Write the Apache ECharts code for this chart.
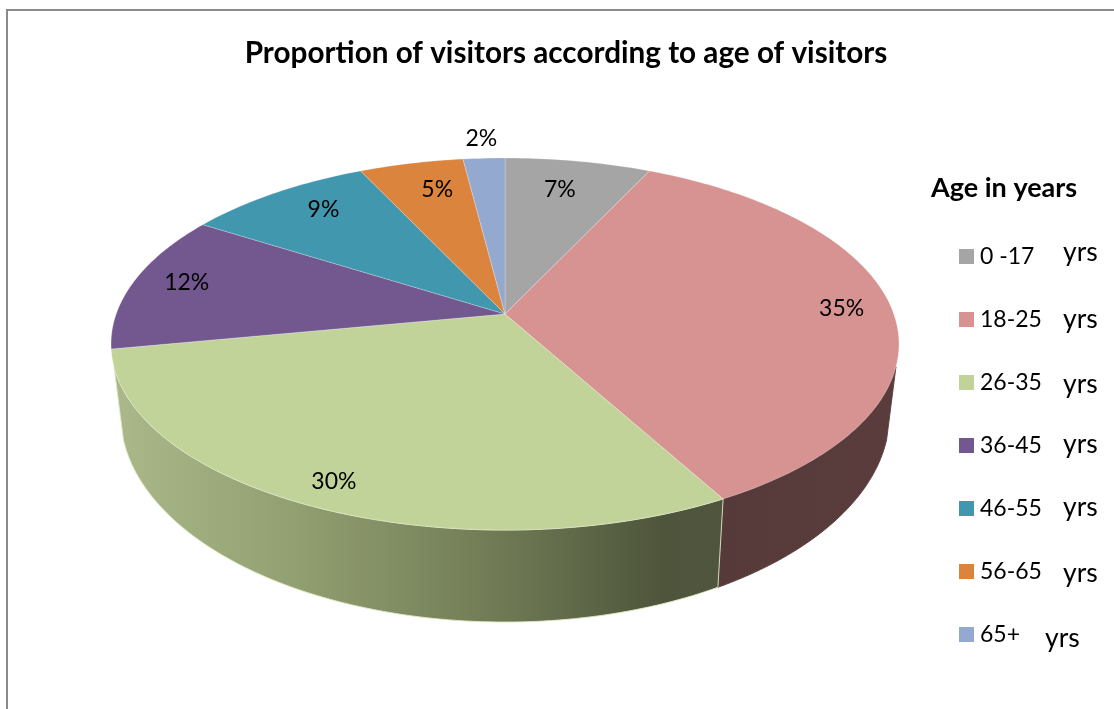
<!DOCTYPE html>
<html>
<head>
<meta charset="utf-8">
<style>html,body{margin:0;padding:0;background:#fff}#chart{width:1114px;height:709px}</style>
<script src="https://cdn.jsdelivr.net/npm/echarts@6/dist/echarts.min.js"></script>
</head>
<body>
<div id="chart"></div>
<script>
// Visitor shares by age band, in percent.
const ageBands = ['0 -17', '18-25', '26-35', '36-45', '46-55', '56-65', '65+'];
const sharePercent = [7, 35, 30, 12, 9, 5, 2];
const chartTitle = 'Proportion of visitors according to age of visitors';
const legendTitle = 'Age in years';
const unitWord = 'yrs';

// Appearance of each slice.
const sliceColors = ['#a5a5a5', '#d79391', '#c2d39a', '#72588e', '#4197ae', '#db843d', '#93a9cf'];
const FONT = 'Lato, "Open Sans", sans-serif';

// Label placement around the disc: radius fraction and angle nudge in degrees.
const labelSpots = [[.79, -1], [.87, 0], [.89, .3], [.86, 1], [.82, 2.5], [.80, 2], [1.15, 0]];
// Horizontal start and vertical centre of each "yrs" word beside the legend.
const unitSpots = [[1063, 252], [1063, 319], [1063, 384], [1063, 444], [1063, 507], [1063, 573], [1045, 638]];

// Perspective disc: apex position, semi-axes and foreshortening.
const APEX_X = 505, APEX_Y = 314, AX = 388.8, BY = 181.2, P = 0.1613;
// Side wall: the lower rim is an affine copy of the upper rim.
const WALL_SX = 0.976, WALL_SY = 1.117, WALL_DY = 30;
// Fractions of the circle between which the wall faces the viewer.
const WALL_FROM = 0.295, WALL_TO = 0.705;

function project(frac, r) {
  const t = frac * 2 * Math.PI;
  const u = r * Math.sin(t), v = -r * Math.cos(t);
  const w = 1 - P * v;
  return [APEX_X + AX * u / w, APEX_Y + BY * v / w];
}
function lowerRim(pt) {
  return [APEX_X + WALL_SX * (pt[0] - APEX_X), WALL_SY * pt[1] + WALL_DY];
}
function rimPoints(a, b) {
  const n = Math.max(2, Math.ceil((b - a) * 360));
  const pts = [];
  for (let i = 0; i <= n; i++) pts.push(project(a + (b - a) * i / n, 1));
  return pts;
}

// Wall shading runs across the whole front of the disc, so stops are per slice.
const wallFills = {
  1: new echarts.graphic.LinearGradient(0, 0, 1, 0, [
    { offset: 0, color: '#563a3a' }, { offset: 1, color: '#5a3c3c' }]),
  2: new echarts.graphic.LinearGradient(0, 0, 1, 0, [
    { offset: 0, color: '#abb88a' }, { offset: 0.3, color: '#929f70' },
    { offset: 0.62, color: '#717c56' }, { offset: 0.9, color: '#4e553b' }, { offset: 1, color: '#50563e' }])
};

let cumulative = 0;
const series = ageBands.map((name, i) => {
  const start = cumulative / 100;
  cumulative += sharePercent[i];
  const end = cumulative / 100;
  return {
    type: 'custom',
    name,
    coordinateSystem: 'none',
    silent: true,
    itemStyle: { color: sliceColors[i] },
    data: [[start, end, sharePercent[i]]],
    renderItem(params, api) {
      const a = api.value(0), b = api.value(1), pct = api.value(2);
      const children = [];
      const wa = Math.max(a, WALL_FROM), wb = Math.min(b, WALL_TO);
      if (wb > wa) {
        const top = rimPoints(wa, wb);
        const poly = top.concat(top.map(lowerRim).reverse());
        children.push({
          type: 'polygon',
          shape: { points: poly },
          style: { fill: wallFills[i], stroke: i === 2 ? '#dfe9c6' : '#5a3c3c', lineWidth: 0.9 }
        });
      }
      children.push({
        type: 'polygon',
        shape: { points: [[APEX_X, APEX_Y]].concat(rimPoints(a, b)) },
        style: { fill: sliceColors[i], stroke: 'rgba(255,255,255,0.3)', lineWidth: 0.8 }
      });
      const spot = labelSpots[i];
      const at = project((a + b) / 2 + spot[1] / 360, spot[0]);
      children.push({
        type: 'text',
        z2: 10,
        style: {
          x: at[0], y: at[1], text: pct + '%', fill: '#000',
          font: '23px ' + FONT, align: 'center', verticalAlign: 'middle'
        }
      });
      return { type: 'group', children };
    }
  };
});

const chart = echarts.init(document.getElementById('chart'), null, { renderer: 'canvas' });
chart.setOption({
  animation: false,
  backgroundColor: '#ffffff',
  title: {
    text: chartTitle, left: 561, top: 33, textAlign: 'center',
    textStyle: { fontFamily: FONT, fontSize: 29.7, fontWeight: 'bold', color: '#000' }
  },
  legend: {
    orient: 'vertical', left: 959, top: 245, icon: 'rect',
    itemWidth: 15, itemHeight: 15, itemGap: 40, padding: 0,
    selectedMode: false,
    data: ageBands,
    textStyle: { fontFamily: FONT, fontSize: 23, color: '#000', lineHeight: 23, padding: [0, 0, 0, 1] }
  },
  series,
  graphic: [
    { type: 'line', silent: true, shape: { x1: 7, y1: 709, x2: 7, y2: 10 }, style: { stroke: '#8a8a8a', lineWidth: 2 } },
    { type: 'line', silent: true, shape: { x1: 6, y1: 10, x2: 1114, y2: 10 }, style: { stroke: '#8a8a8a', lineWidth: 2 } },
    { type: 'text', silent: true, style: { x: 931, y: 188, text: legendTitle, fill: '#000', font: 'bold 27px ' + FONT, verticalAlign: 'middle' } }
  ].concat(unitSpots.map(s => ({
    type: 'text', silent: true,
    style: { x: s[0], y: s[1], text: unitWord, fill: '#000', font: '26.5px ' + FONT, verticalAlign: 'middle' }
  })))
});
</script>
</body>
</html>
